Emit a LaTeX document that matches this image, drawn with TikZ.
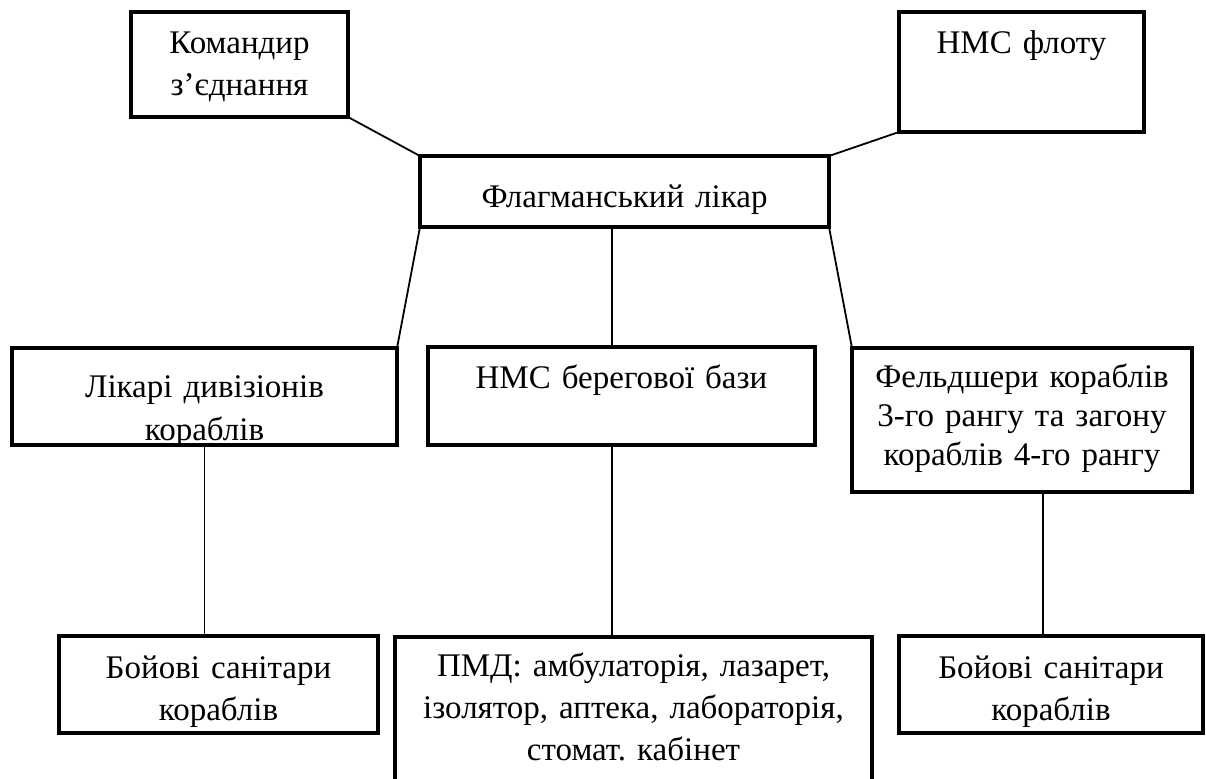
\documentclass[tikz,border=0pt]{standalone}
\usepackage{fontspec}
\setmainfont{Liberation Serif}
\usetikzlibrary{calc}
\frenchspacing

\tikzset{
  box/.style={draw, line width=1.65pt, inner sep=0pt, outer sep=0pt},
  link/.style={line width=0.9pt},
  lbl/.style={anchor=base, align=center, inner sep=0pt, text width=#1,
    font=\fontsize{16.5}{21}\selectfont},
}

\begin{document}
\begin{tikzpicture}[x=0.5pt, y=-0.5pt]
  \useasboundingbox (0,0) rectangle (1206,778);

  % Boxes (centre, width, height)
  \foreach \name/\x/\y/\w/\h in {
    kom/239.5/64.5/108.5/52.5,
    nmsf/1021.5/72/122.5/60,
    flag/624.5/191.5/204.5/35.5,
    likari/204.5/396.5/192.5/48.5,
    bereg/621.5/396/193.5/49,
    feld/1022/420/170/72,
    boy1/218.5/684.5/159.5/48.5,
    pmd/633.5/713.5/238.5/76.5,
    boy2/1051/684.5/152/48.5
  } {
    \node[box, minimum width=\w pt, minimum height=\h pt] (\name) at (\x,\y) {};
  }

  % Labels
  \node[lbl=105pt] (kom-t) at (239.5,53) {Командир\\з’єднання};
  \node[lbl=120pt] (nmsf-t) at (1021.5,53) {НМС флоту};
  \node[lbl=200pt] (flag-t) at (624.5,207) {Флагманський лікар};
  \node[lbl=190pt] (bereg-t) at (621.5,388) {НМС берегової бази};
  \node[lbl=168pt, font=\fontsize{16.5}{19.5}\selectfont] (feld-t) at (1022,387)
    {Фельдшери кораблів\\3-го рангу та загону\\кораблів 4-го рангу};
  \node[lbl=236pt] (pmd-t) at (633.5,676)
    {ПМД: амбулаторія, лазарет,\\ізолятор, аптека, лабораторія,\\стомат. кабінет};

  % Labels cut off by the box edge
  \begin{scope}
    \clip (likari.south west) rectangle (likari.north east);
    \node[lbl=190pt, font=\fontsize{16.5}{21.5}\selectfont] (likari-t) at (204.5,397)
      {Лікарі дивізіонів\\кораблів};
  \end{scope}
  \begin{scope}
    \clip (boy1.south west) rectangle (boy1.north east);
    \node[lbl=157pt] (boy1-t) at (218.5,678) {Бойові санітари\\кораблів};
  \end{scope}
  \begin{scope}
    \clip (boy2.south west) rectangle (boy2.north east);
    \node[lbl=150pt] (boy2-t) at (1051,678) {Бойові санітари\\кораблів};
  \end{scope}

  % Connectors
  \draw[link] (kom.south east) -- (flag.north west);
  \draw[link] (nmsf.south west) -- (flag.north east);
  \draw[link] (flag.south west) -- (likari.north east);
  \draw[link] ([xshift=-6.25pt]flag.south) -- ([xshift=-4.75pt]bereg.north);
  \draw[link] (flag.south east) -- (feld.north west);
  \draw[link] (likari.south) -- (likari.south |- boy1.north);
  \draw[link] ([xshift=-4.75pt]bereg.south) coordinate (b1) -- (b1 |- pmd.north);
  \draw[link] ([xshift=10.5pt]feld.south) coordinate (f1) -- (f1 |- boy2.north);
\end{tikzpicture}
\end{document}
